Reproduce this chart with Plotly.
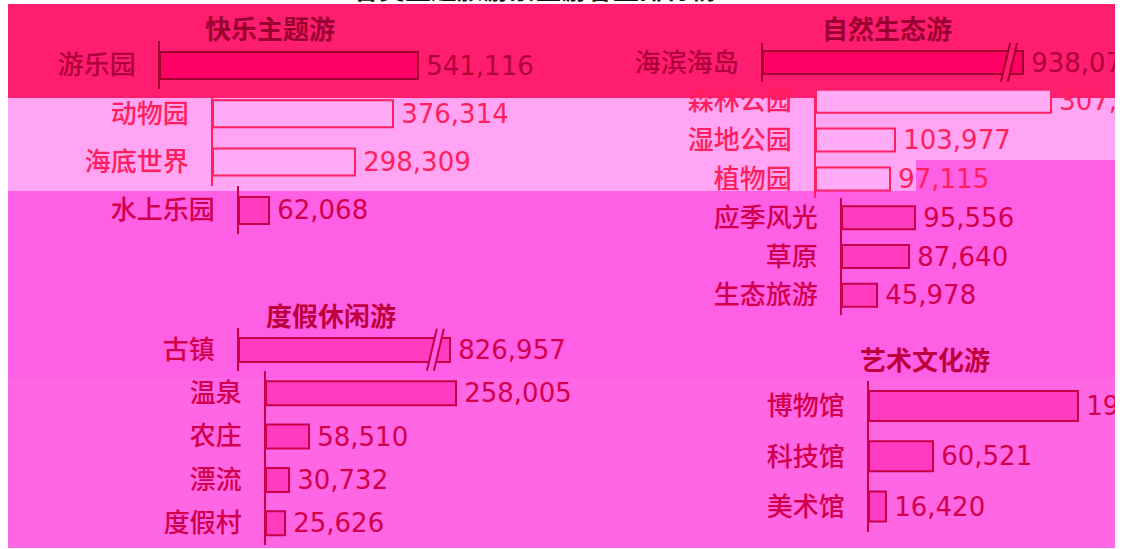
import plotly.graph_objects as go

W, H = 1123, 549

# ---------------- data ----------------
fun_names = ["游乐园", "动物园", "海底世界", "水上乐园"]
fun_values = [541116, 376314, 298309, 62068]

nature_names = ["海滨海岛", "森林公园", "湿地公园", "植物园", "应季风光", "草原", "生态旅游"]
nature_values = [938072, 307426, 103977, 97115, 95556, 87640, 45978]

leisure_names = ["古镇", "温泉", "农庄", "漂流", "度假村"]
leisure_values = [826957, 258005, 58510, 30732, 25626]

culture_names = ["博物馆", "科技馆", "美术馆"]
culture_values = [196537, 60521, 16420]

group_titles = ["快乐主题游", "自然生态游", "度假休闲游", "艺术文化游"]
main_title = "各类主题旅游景区游客量排行榜"

groups = [
    (group_titles[0], fun_names, fun_values),
    (group_titles[1], nature_names, nature_values),
    (group_titles[2], leisure_names, leisure_values),
    (group_titles[3], culture_names, culture_values),
]

# -------------- geometry (pixels) --------------
# axis: x of the value axis, top: top of first row, pitch: row height,
# per_px: data units per pixel, broken: draw the longest bar with an axis break
frames = [
    dict(axis=266, top=41, pitch=48.3, per_px=2095, broken=False, tdx=110, tdy=-13, bar=0.56),
    dict(axis=869, top=43, pitch=38.8, per_px=1310, broken=True, tdx=124, tdy=-15, bar=0.59),
    dict(axis=266, top=328, pitch=43.3, per_px=1358, broken=True, tdx=92, tdy=-14, bar=0.56),
    dict(axis=869, top=381, pitch=50.3, per_px=940, broken=False, tdx=83, tdy=-23, bar=0.59),
]
BREAK_FACTOR = 1.11  # truncated bar length relative to the runner-up

# horizontal colour bands: vertical extent, horizontal offset, palette
bands = [
    dict(y0=4, y1=98, dx=-106, bg="#FF1D6F", fill="#FF0064", edge="#A3002E",
         ink="#B0003A", head="#9A002F"),
    dict(y0=98, y1=191, dx=-53, bg="#FFA5F3", fill="#FFABF6", edge="#FF1F63",
         ink="#FF1F5E", head="#E0004A"),
    dict(y0=191, y1=378, dx=-27, bg="#FF5FE5", fill="#FF3CC0", edge="#C8004A",
         ink="#D2004C", head="#BE003E"),
    dict(y0=378, y1=548, dx=0, bg="#FF66E3", fill="#FF3CC0", edge="#C8004A",
         ink="#D2004C", head="#BE003E"),
]

FONT = "DejaVu Sans, Noto Sans CJK SC, sans-serif"
LEFT, RIGHT = 8, 1115


def band_at(y):
    for b in bands:
        if b["y0"] <= y < b["y1"]:
            return b
    return bands[-1]


def px(x):
    return x / W


def py(y):
    return 1 - y / H


fig = go.Figure()
layout = dict(shapes=[], annotations=[])
shapes = layout["shapes"]
annotations = layout["annotations"]

# background bands
for b in bands:
    shapes.append(dict(type="rect", xref="paper", yref="paper", layer="below",
                       x0=px(LEFT), x1=px(RIGHT), y0=py(b["y1"]), y1=py(b["y0"]),
                       fillcolor=b["bg"], line=dict(width=0)))
# right part of the light band ends a little higher
shapes.append(dict(type="rect", xref="paper", yref="paper", layer="below",
                   x0=px(916), x1=px(RIGHT), y0=py(191), y1=py(160),
                   fillcolor=bands[2]["bg"], line=dict(width=0)))

k = 0
for (title, names, values), fr in zip(groups, frames):
    ordered = sorted(values, reverse=True)
    cap = ordered[1] * BREAK_FACTOR if fr["broken"] else None

    # group heading
    tb = band_at(fr["top"] + fr["tdy"])
    annotations.append(dict(
        text=f"<b>{title}</b>", xref="paper", yref="paper", showarrow=False,
        x=px(fr["axis"] + tb["dx"] + fr["tdx"]), y=py(fr["top"] + fr["tdy"]),
        xanchor="center", yanchor="middle",
        font=dict(family="Noto Sans CJK SC", size=26, color=tb["head"])))

    for i, (name, val) in enumerate(zip(names, values)):
        k += 1
        sfx = "" if k == 1 else str(k)
        top = fr["top"] + i * fr["pitch"]
        bot = top + fr["pitch"]
        b = band_at((top + bot) / 2)
        x0 = fr["axis"] + b["dx"]
        span = min(290, W - 2 - x0)
        shown = min(val, cap) if cap else val

        fig.add_trace(go.Bar(
            x=[shown], y=[name], orientation="h",
            xaxis="x" + sfx, yaxis="y" + sfx,
            width=fr["bar"],
            marker=dict(color=b["fill"], line=dict(color=b["edge"], width=2)),
            text=[f"\u2009{val:,}"], textposition="outside", cliponaxis=False,
            constraintext="none",
            textfont=dict(family=FONT, size=26, color=b["ink"]),
            hoverinfo="skip", showlegend=False))

        layout["xaxis" + sfx] = dict(
            domain=[px(x0), px(x0 + span)], range=[0, span * fr["per_px"]],
            anchor="y" + sfx, visible=False, fixedrange=True)
        layout["yaxis" + sfx] = dict(
            domain=[py(bot), py(top)], anchor="x" + sfx, type="category",
            range=[-0.5, 0.5], showline=True, linecolor=b["edge"], linewidth=2,
            showgrid=False, zeroline=False, ticks="", ticklabelstandoff=17,
            tickfont=dict(family=FONT, size=26, color=b["ink"], weight=500),
            fixedrange=True)

        # axis-break marks on a truncated bar
        if cap and val > cap:
            u = fr["per_px"]
            a, c = shown - 18 * u, shown - 11 * u
            lean, h = 5 * u, 21 / fr["pitch"]
            xr, yr = "x" + sfx, "y" + sfx
            shapes.append(dict(
                type="path", xref=xr, yref=yr, layer="above",
                path=f"M{a - lean},{-h} L{a + lean},{h} L{c + lean},{h} L{c - lean},{-h} Z",
                fillcolor=b["bg"], line=dict(width=0)))
            for s in (a, c):
                shapes.append(dict(
                    type="line", xref=xr, yref=yr, layer="above",
                    x0=s - lean, x1=s + lean, y0=-h, y1=h,
                    line=dict(color=b["edge"], width=2)))

# white page border
for x0_, x1_, y0_, y1_ in [(0, LEFT, 0, H), (RIGHT, W, 0, H), (0, W, 0, 4), (0, W, 548, H)]:
    shapes.append(dict(type="rect", xref="paper", yref="paper", layer="above",
                       x0=px(x0_), x1=px(x1_), y0=py(y1_), y1=py(y0_),
                       fillcolor="white", line=dict(width=0)))

# main title
annotations.append(dict(
    text=f"<b>{main_title}</b>", xref="paper", yref="paper", showarrow=False,
    x=px(535), y=py(-12), xanchor="center", yanchor="middle",
    font=dict(family="Noto Sans CJK SC", size=26, color="#111111")))

fig.update_layout(
    width=W, height=H, margin=dict(l=0, r=0, t=0, b=0),
    paper_bgcolor="white", plot_bgcolor="rgba(0,0,0,0)",
    bargap=0, showlegend=False, **layout)

fig.write_html("out.html", config={"displayModeBar": False})
